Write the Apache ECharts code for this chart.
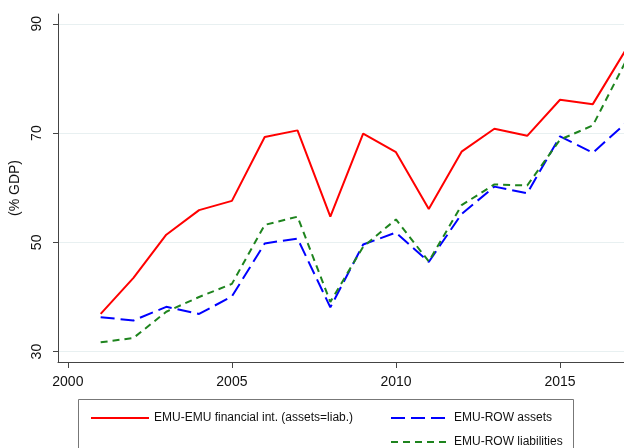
<!DOCTYPE html>
<html>
<head>
<meta charset="utf-8">
<script src="https://cdn.jsdelivr.net/npm/echarts@6/dist/echarts.min.js"></script>
<style>
  body { margin: 0; background: #fff; }
  #chart { width: 624px; height: 448px; }
</style>
</head>
<body>
<div id="chart"></div>
<script>
// years and series (% of GDP)
var years = [2001, 2002, 2003, 2004, 2005, 2006, 2007, 2008, 2009, 2010, 2011, 2012, 2013, 2014, 2015, 2016, 2017];
var emuEmu = [36.9, 43.5, 51.4, 55.9, 57.6, 69.3, 70.5, 54.7, 69.9, 66.5, 56.1, 66.6, 70.8, 69.5, 76.1, 75.3, 85.2];
var rowAssets = [36.3, 35.7, 38.2, 36.9, 40.1, 49.8, 50.7, 38.1, 49.6, 51.8, 46.4, 55.2, 60.2, 59.0, 69.4, 66.4, 71.8];
var rowLiab = [31.7, 32.5, 37.3, 40.0, 42.4, 53.2, 54.7, 39.1, 49.2, 54.2, 46.5, 56.8, 60.6, 60.4, 68.8, 71.4, 83.1];
var xTicks = [2000, 2005, 2010, 2015];
var yTicks = [30, 50, 70, 90];

function pairs(vals) {
  return years.map(function (y, i) { return [y, vals[i]]; });
}

var chart = echarts.init(document.getElementById("chart"));
var font = "Liberation Sans, Arial, sans-serif";

function legendAt(name, left, top) {
  return {
    data: [name],
    left: left, top: top,
    itemWidth: 58, itemHeight: 12,
    itemStyle: { opacity: 0 },
    textStyle: { color: "#111", fontSize: 12, fontFamily: font }
  };
}

chart.setOption({
  animation: false,
  grid: { left: 58, right: 0, top: 14, bottom: 86 },
  xAxis: {
    type: "value",
    min: 1999.7,
    max: 2016.95,
    axisLine: { lineStyle: { color: "#444", width: 1 } },
    axisTick: { show: true, length: 6, customValues: xTicks, lineStyle: { color: "#444" } },
    axisLabel: {
      customValues: xTicks, color: "#111", fontSize: 14, fontFamily: font, margin: 13,
      formatter: function (v) { return String(v); }
    },
    splitLine: { show: false }
  },
  yAxis: {
    type: "value",
    min: 28.1,
    max: 91.8,
    name: "(% GDP)",
    nameLocation: "middle",
    nameGap: 35,
    nameTextStyle: { color: "#111", fontSize: 14, fontFamily: font },
    axisLine: { show: true, lineStyle: { color: "#444", width: 1 } },
    axisTick: { show: true, length: 5, customValues: yTicks, lineStyle: { color: "#444" } },
    axisLabel: { customValues: yTicks, rotate: 90, color: "#111", fontSize: 14, fontFamily: font, margin: 14 },
    splitLine: { show: true, lineStyle: { color: "#e8f0f1", width: 1 } }
  },
  legend: [
    legendAt("EMU-EMU financial int. (assets=liab.)", 85, 407),
    legendAt("EMU-ROW assets", 385, 407),
    legendAt("EMU-ROW liabilities", 385, 431)
  ],
  graphic: [
    {
      type: "rect",
      shape: { x: 78.5, y: 399.5, width: 495, height: 60 },
      style: { fill: "none", stroke: "#777", lineWidth: 1 }
    }
  ],
  series: [
    {
      name: "EMU-EMU financial int. (assets=liab.)",
      type: "line",
      data: pairs(emuEmu),
      symbol: "none",
      lineStyle: { color: "#ff0000", width: 2 },
      itemStyle: { color: "#ff0000" }
    },
    {
      name: "EMU-ROW assets",
      type: "line",
      data: pairs(rowAssets),
      symbol: "none",
      lineStyle: { color: "#0000ff", width: 2, type: [14, 6] },
      itemStyle: { color: "#0000ff" }
    },
    {
      name: "EMU-ROW liabilities",
      type: "line",
      data: pairs(rowLiab),
      symbol: "none",
      lineStyle: { color: "#1e841e", width: 2, type: [7, 5] },
      itemStyle: { color: "#1e841e" }
    }
  ]
});
</script>
</body>
</html>
